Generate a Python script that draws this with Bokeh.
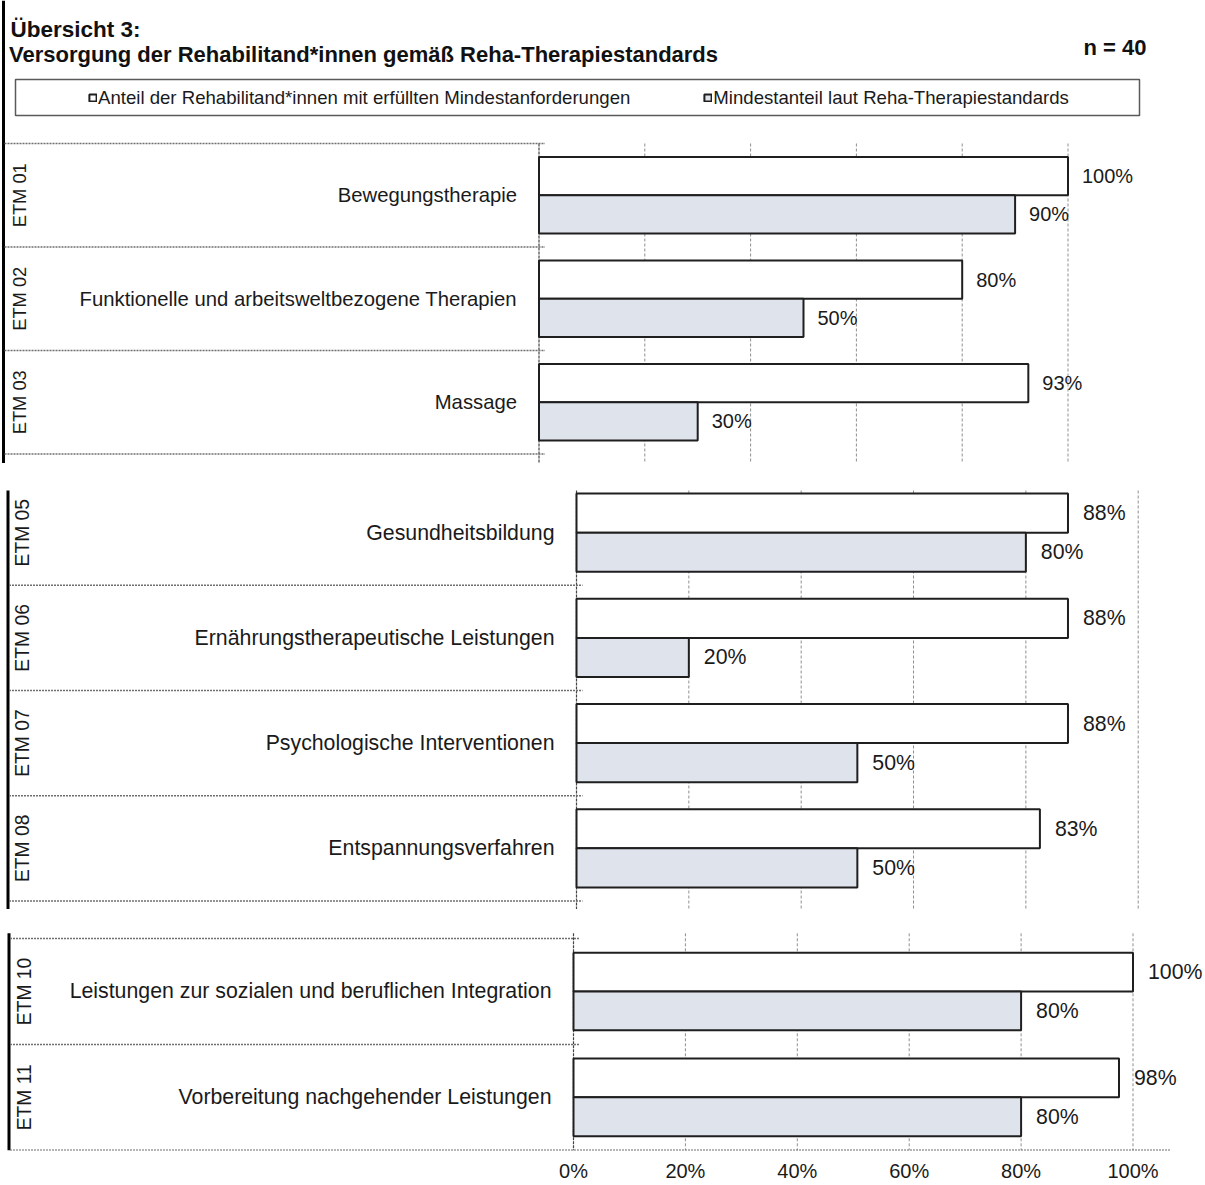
import math
from bokeh.plotting import figure
from bokeh.models import (Range1d, Legend, LegendItem, BoxAnnotation, FixedTicker,
                          LinearAxis, ColumnDataSource)
from bokeh.layouts import column
from bokeh.core.properties import value
from bokeh.embed import file_html
from bokeh.resources import INLINE

# ---------------- data ----------------
title_line1 = "Übersicht 3:"
title_line2 = "Versorgung der Rehabilitand*innen gemäß Reha-Therapiestandards"
n_label = "n = 40"
series_names = ["Anteil der Rehabilitand*innen mit erfüllten Mindestanforderungen",
                "Mindestanteil laut Reha-Therapiestandards"]

p1_codes = ["ETM 01", "ETM 02", "ETM 03"]
p1_names = ["Bewegungstherapie", "Funktionelle und arbeitsweltbezogene Therapien", "Massage"]
p1_actual = [100, 80, 92.5]
p1_minimum = [90, 50, 30]

p2_codes = ["ETM 05", "ETM 06", "ETM 07", "ETM 08"]
p2_names = ["Gesundheitsbildung", "Ernährungstherapeutische Leistungen",
            "Psychologische Interventionen", "Entspannungsverfahren"]
p2_actual = [87.5, 87.5, 87.5, 82.5]
p2_minimum = [80, 20, 50, 50]

p3_codes = ["ETM 10", "ETM 11"]
p3_names = ["Leistungen zur sozialen und beruflichen Integration",
            "Vorbereitung nachgehender Leistungen"]
p3_actual = [100, 97.5]
p3_minimum = [80, 80]

tick_values = [0, 20, 40, 60, 80, 100]
tick_labels = ["0%", "20%", "40%", "60%", "80%", "100%"]

# ---------------- style ----------------
FONT = "Liberation Sans"
TXT = "#1a1a1a"
BAR_LINE = "#1f1f1f"
GRAY_FILL = "#dfe3eb"
W = 1204
PAGE_X = 0


def pct(v):
    return f"{int(v + 0.5)}%"


def build_panel(codes, names, actual, minimum, *, fig_top, fig_h, border_bottom,
                row_top, row_px, x0_px, px_per, line_top, top_sep, etm_x, border_x,
                fs_cat, fs_etm, fs_val, val_off, bar_h, border_top=None,
                bottom_sep_right=None):
    frame_top = fig_top
    frame_bottom = fig_top + fig_h - border_bottom

    def px2x(px):
        return (px - x0_px) / px_per

    def py2y(py):
        return (py - row_top) / row_px - 0.5

    p = figure(width=W, height=fig_h,
               x_range=Range1d(px2x(PAGE_X), px2x(PAGE_X + W)),
               y_range=Range1d(py2y(frame_bottom), py2y(frame_top)),
               x_axis_location=None, y_axis_location=None,
               output_backend="svg", toolbar_location=None,
               min_border=0, min_border_bottom=border_bottom,
               outline_line_color=None)
    p.grid.visible = False

    n = len(codes)
    rows = list(range(n))
    src = ColumnDataSource(dict(
        row=rows, code=codes, name=names, actual=actual, minimum=minimum,
        y_act=[r - bar_h / 2 for r in rows],
        y_min=[r + bar_h / 2 for r in rows],
        lab_act=[pct(v) for v in actual],
        lab_min=[pct(v) for v in minimum]))

    # vertical grid lines
    grid_x = tick_values[1:]
    p.segment(x0=grid_x, x1=grid_x, y0=py2y(line_top), y1=py2y(frame_bottom),
              line_color="#8f8f8f", line_width=1, line_dash="3 2")
    # zero axis line
    p.segment(x0=[0], x1=[0], y0=py2y(line_top), y1=py2y(frame_bottom),
              line_color="#444444", line_width=1.2, line_dash="3 1")
    # left border line
    bt = line_top if border_top is None else border_top
    p.segment(x0=[px2x(border_x)], x1=[px2x(border_x)],
              y0=py2y(bt), y1=py2y(frame_bottom), line_color="black", line_width=3)
    # row separators
    sep_y = [r - 0.5 for r in range(n + 1)]
    if not top_sep:
        sep_y = sep_y[1:]
    sep_x1 = [px2x(x0_px + 6)] * len(sep_y)
    if bottom_sep_right is not None:
        sep_x1[-1] = px2x(bottom_sep_right)
    p.segment(x0=[px2x(border_x + 1)] * len(sep_y), x1=sep_x1, y0=sep_y, y1=sep_y,
              line_color="#6f6f6f", line_width=1.5, line_dash="2 1")

    # bars
    r_act = p.hbar(y="y_act", left=0, right="actual", height=bar_h, source=src,
                   fill_color="white", line_color=BAR_LINE, line_width=2)
    r_min = p.hbar(y="y_min", left=0, right="minimum", height=bar_h, source=src,
                   fill_color=GRAY_FILL, line_color=BAR_LINE, line_width=2)

    # value labels
    common = dict(text_font=value(FONT), text_color=TXT, text_baseline="middle")
    p.text(x="actual", y="y_act", text="lab_act", x_offset=val_off, text_align="left",
           text_font_size=fs_val, source=src, **common)
    p.text(x="minimum", y="y_min", text="lab_min", x_offset=val_off, text_align="left",
           text_font_size=fs_val, source=src, **common)
    # category labels
    p.text(x=0, y="row", text="name", x_offset=-22, text_align="right",
           text_font_size=fs_cat, source=src, **common)
    # ETM codes (rotated)
    p.text(x=px2x(etm_x), y="row", text="code", angle=math.pi / 2, text_align="center",
           text_font_size=fs_etm, source=src, **common)

    return p, r_act, r_min, px2x, py2y


# ---------------- panel 1 (with header) ----------------
p1, a1, m1, px2x1, py2y1 = build_panel(
    p1_codes, p1_names, p1_actual, p1_minimum,
    fig_top=0, fig_h=463, border_bottom=0, row_top=143, row_px=103.5,
    x0_px=538.5, px_per=5.29, line_top=143, top_sep=True, etm_x=19, border_x=3,
    fs_cat="20.3px", fs_etm="18.3px", fs_val="20px", val_off=14, bar_h=0.37,
    border_top=0)

hdr = dict(text_font=value(FONT), text_color="#111111", text_font_style="bold",
           text_baseline="alphabetic")
p1.text(x=[px2x1(10)], y=[py2y1(29)], text=[title_line1], text_align="left",
        text_font_size="22.5px", **hdr)
p1.text(x=[px2x1(8.5)], y=[py2y1(54)], text=[title_line2], text_align="left",
        text_font_size="22px", **hdr)
p1.text(x=[px2x1(1146)], y=[py2y1(47)], text=[n_label], text_align="right",
        text_font_size="22px", **hdr)

legend_box = BoxAnnotation(left=px2x1(15), right=px2x1(1139), top=py2y1(79),
                           bottom=py2y1(115), fill_color=None, fill_alpha=0,
                           line_color="#5a5a5a", line_alpha=1.0, line_width=1.5)
p1.add_layout(legend_box)
legend = Legend(items=[LegendItem(label=series_names[0], renderers=[a1]),
                       LegendItem(label=series_names[1], renderers=[m1])],
                orientation="horizontal", location=(88, 463 - 108.5),
                padding=0, margin=0, spacing=73, glyph_width=9, glyph_height=9,
                label_standoff=1, border_line_color=None, background_fill_alpha=0,
                label_text_font=FONT, label_text_font_size="18.6px",
                label_text_color=TXT)
p1.add_layout(legend)

# ---------------- panel 2 ----------------
p2, a2, m2, _, _ = build_panel(
    p2_codes, p2_names, p2_actual, p2_minimum,
    fig_top=463, fig_h=446, border_bottom=0, row_top=479.6, row_px=105.2,
    x0_px=576, px_per=5.617, line_top=490, top_sep=False, etm_x=22, border_x=7.5,
    fs_cat="21.3px", fs_etm="19.3px", fs_val="21.3px", val_off=15, bar_h=0.372)

# ---------------- panel 3 (with x axis) ----------------
p3, a3, m3, _, _ = build_panel(
    p3_codes, p3_names, p3_actual, p3_minimum,
    fig_top=909, fig_h=275, border_bottom=32, row_top=938.3, row_px=106.7,
    x0_px=573, px_per=5.595, line_top=933, top_sep=True, etm_x=24, border_x=8.5,
    fs_cat="21.3px", fs_etm="19.3px", fs_val="21.3px", val_off=15, bar_h=0.367,
    bottom_sep_right=1170)

xaxis = LinearAxis(ticker=FixedTicker(ticks=tick_values),
                   major_label_overrides={v: l for v, l in zip(tick_values, tick_labels)},
                   axis_line_color=None, major_tick_line_color=None,
                   minor_tick_line_color=None, major_tick_out=0, major_tick_in=0,
                   major_label_standoff=9, major_label_text_font=FONT,
                   major_label_text_font_size="20px", major_label_text_color=TXT)
p3.add_layout(xaxis, "below")

layout = column(p1, p2, p3, spacing=0)
open("out.html", "w").write(file_html(layout, INLINE))
